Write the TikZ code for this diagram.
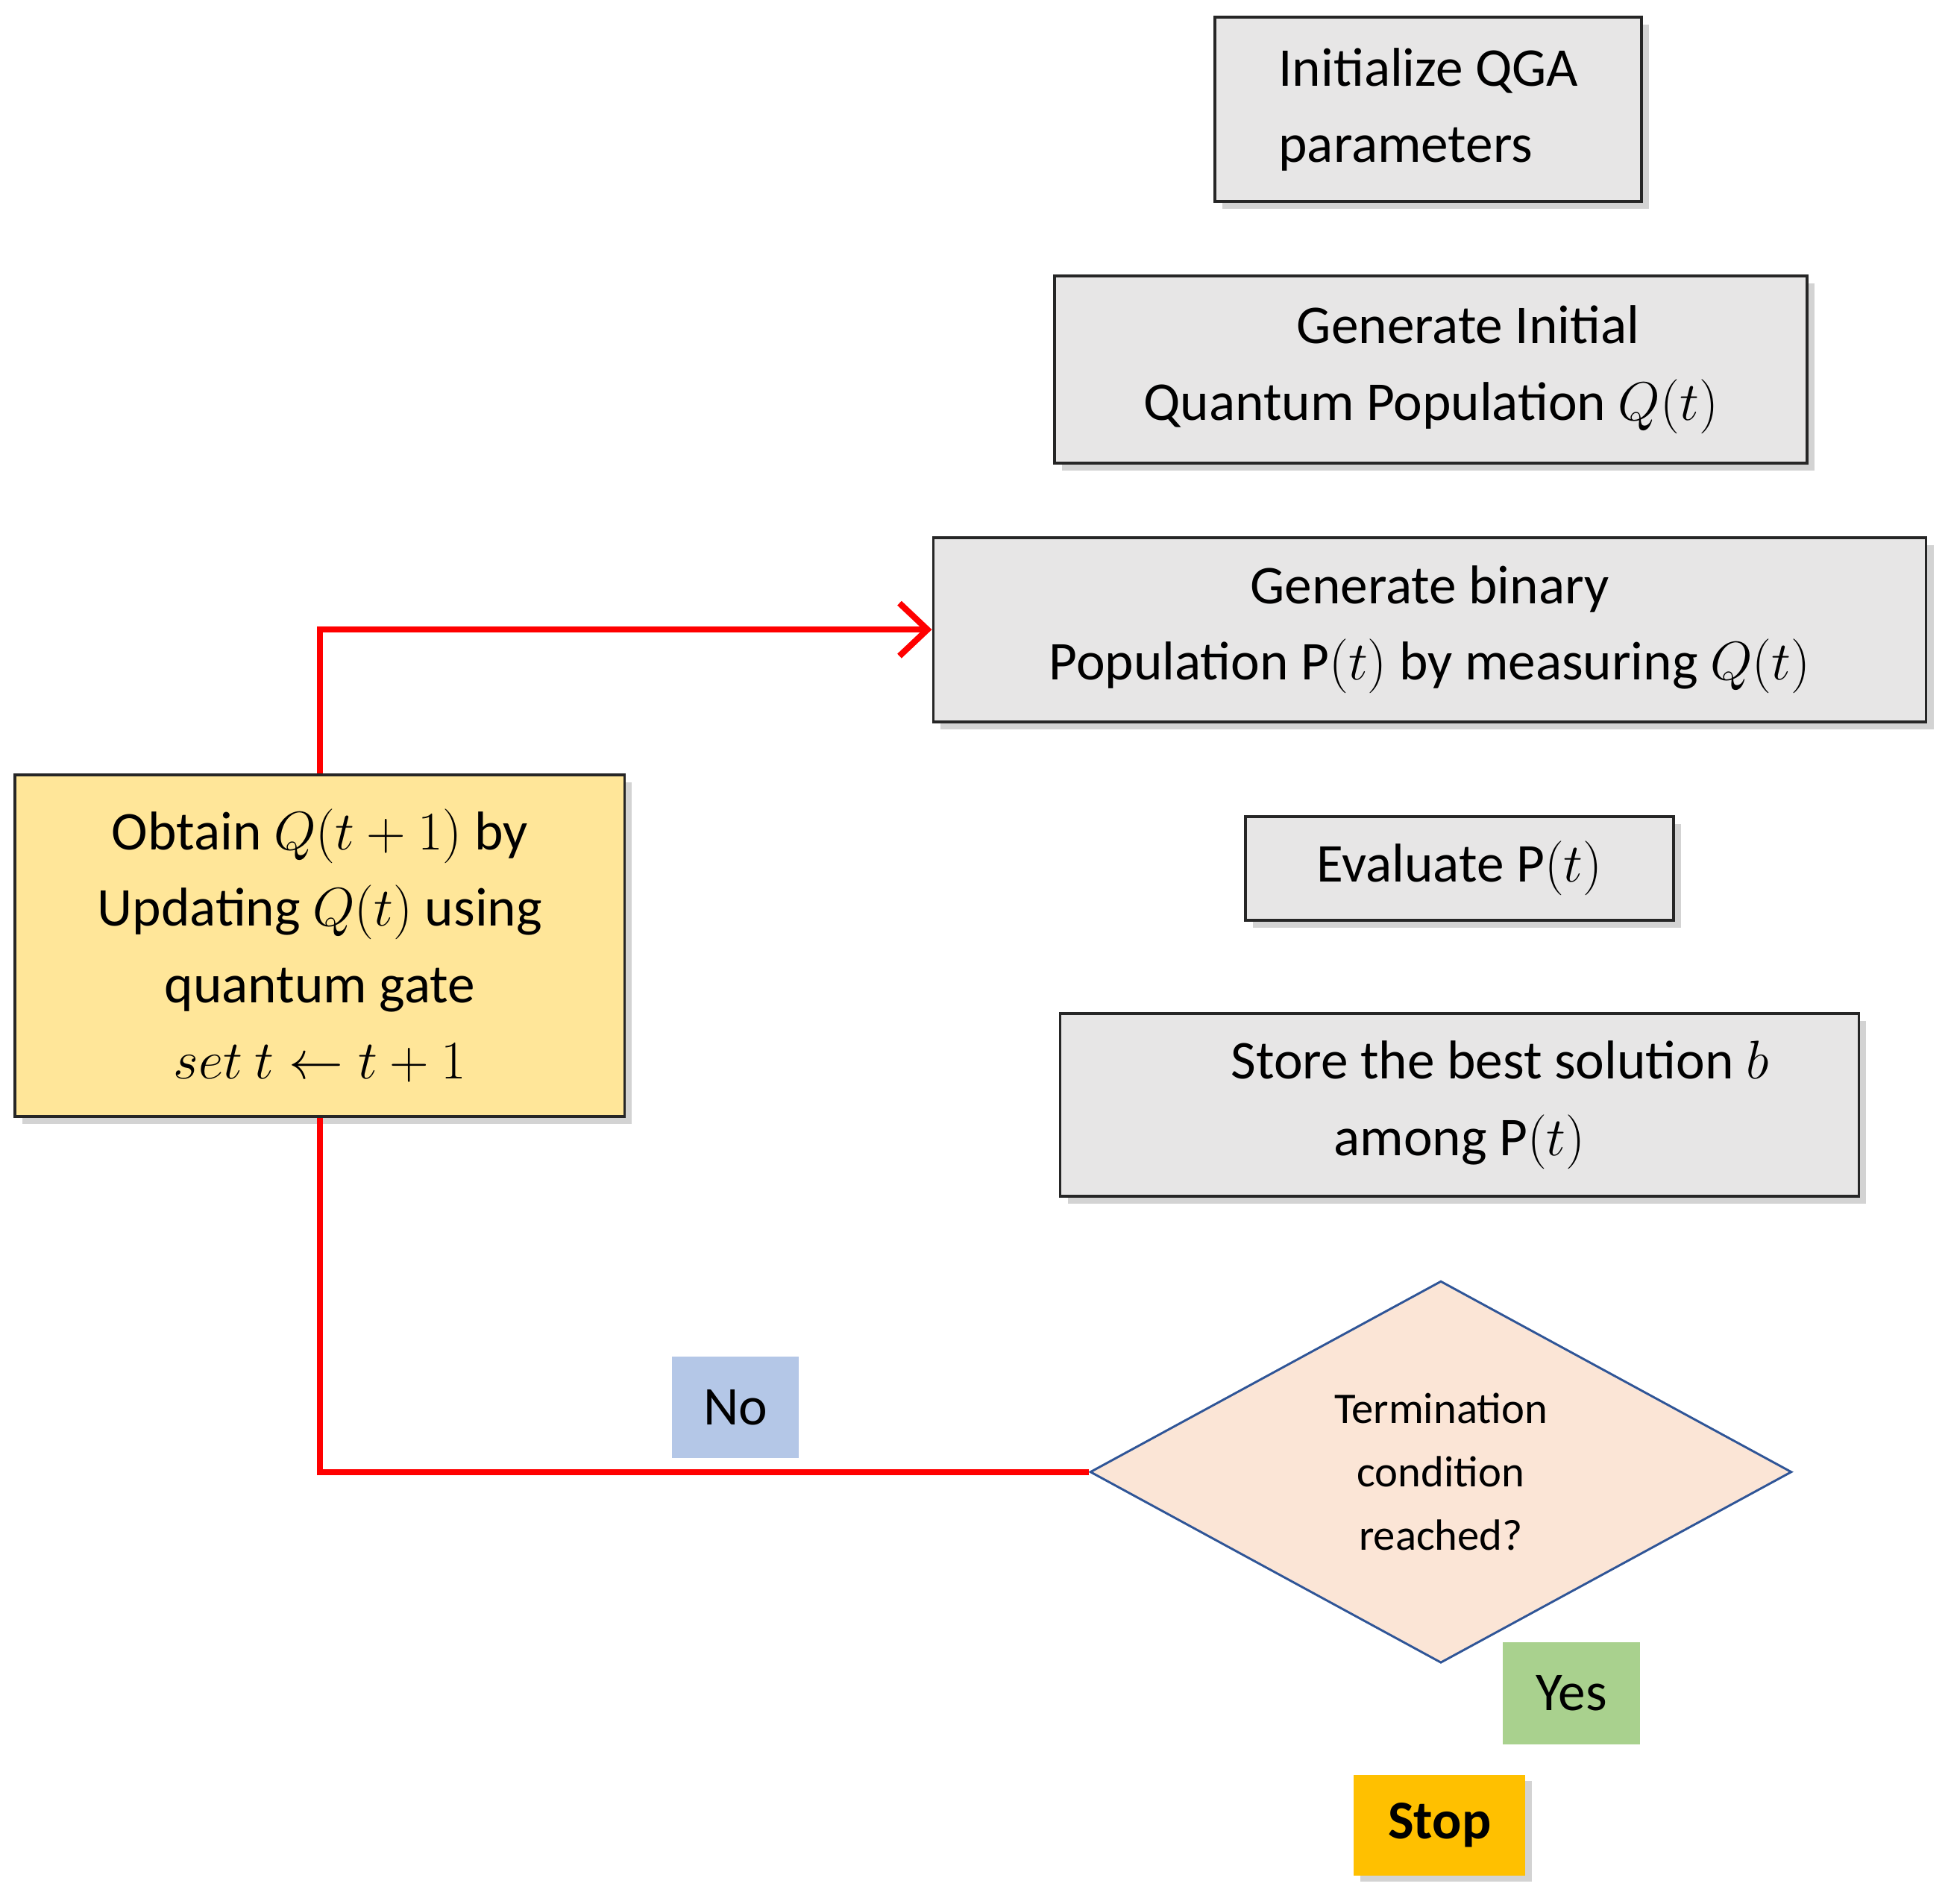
\documentclass[tikz,border=0pt]{standalone}
\usepackage{fontspec}
\setmainfont{Carlito}
\usetikzlibrary{shapes.geometric,arrows.meta,shadows}
\definecolor{boxgray}{HTML}{E7E6E6}
\definecolor{blk}{HTML}{4472C4}
\definecolor{obt}{HTML}{FFE699}
\definecolor{dia}{HTML}{FBE5D6}
\definecolor{diab}{HTML}{2F5597}
\definecolor{stopc}{HTML}{FFC000}
\definecolor{yesc}{HTML}{A9D18E}
\definecolor{noc}{HTML}{B4C7E7}
\begin{document}
\begin{tikzpicture}[x=0.02cm,y=-0.02cm,
  box/.style={draw=black!85,line width=1.3pt,fill=boxgray,inner sep=0pt,align=center,
    font=\fontsize{25}{35}\selectfont,
    drop shadow={shadow xshift=0.12cm,shadow yshift=-0.12cm,opacity=0.35}},
  barrow/.style={draw=none,line width=0.62cm,color=blk,-{Triangle[width=1.35cm,length=0.55cm]}},
  tag/.style={inner sep=0pt,font=\fontsize{25}{30}\selectfont},
  red/.style={draw=red,line width=2.8pt}]
\useasboundingbox (0,0) rectangle (1568,1530);
\node[box,minimum width=6.86cm,minimum height=2.96cm,align=left] (init) at (1148,88) {Initialize QGA\\parameters};
\node[box,minimum width=12.1cm,minimum height=3.0cm] (gi) at (1150,297) {\hspace*{1.2cm}Generate Initial\\Quantum Population $Q(t)$};
\node[box,minimum width=15.96cm,minimum height=2.96cm] (gb) at (1149,506) {Generate binary\\Population $\mathrm{P}(t)$ by measuring $Q(t)$};
\node[box,minimum width=6.88cm,minimum height=1.66cm] (ev) at (1173,698) {Evaluate $\mathrm{P}(t)$};
\node[box,minimum width=12.84cm,minimum height=2.94cm] (st) at (1173,888) {\hspace*{1.3cm}Store the best solution $b$\\among $\mathrm{P}(t)$};
\node[box,fill=obt,minimum width=9.8cm,minimum height=5.5cm] (ob) at (257,760) {Obtain $Q(t+1)$ by\\Updating $Q(t)$ using\\quantum gate\\$set\ t\leftarrow t+1$};
\node[diamond,draw=diab,line width=1pt,fill=dia,inner sep=0pt,minimum width=11.28cm,minimum height=6.14cm,align=center,font=\fontsize{20}{29}\selectfont] (dm) at (1158,1183) {Termination\\condition\\reached?};
\node[fill=stopc,minimum width=2.76cm,minimum height=1.62cm,inner sep=0pt,font=\fontsize{25}{30}\selectfont\bfseries,drop shadow={shadow xshift=0.1cm,shadow yshift=-0.1cm,opacity=0.35}] (stop) at (1157,1467) {Stop};
\node[tag,fill=yesc,minimum width=2.2cm,minimum height=1.64cm] (yes) at (1263,1361) {Yes};
\node[tag,fill=noc,minimum width=2.04cm,minimum height=1.64cm] (no) at (591,1131) {No};
\draw[barrow] (init.south -| 1142,0) -- (gi.north -| 1142,0);
\draw[barrow] (gi.south -| 1149,0) -- (gb.north -| 1149,0);
\draw[barrow] ([yshift=-0.2cm]gb.south -| 1149,0) -- (ev.north -| 1149,0);
\draw[barrow] ([yshift=-0.2cm]ev.south -| 1153,0) -- (st.north -| 1153,0);
\draw[barrow] (st.south -| 1157,0) -- (dm.north);
\draw[barrow] (dm.south -| 1155,0) -- (stop.north -| 1155,0);
\draw[red] (dm.west) -- (dm.west -| ob.south) -- (ob.south);
\draw[red,-{Straight Barb[length=0.45cm,width=0.85cm]}] (ob.north) |- (gb.west);
\end{tikzpicture}
\end{document}
